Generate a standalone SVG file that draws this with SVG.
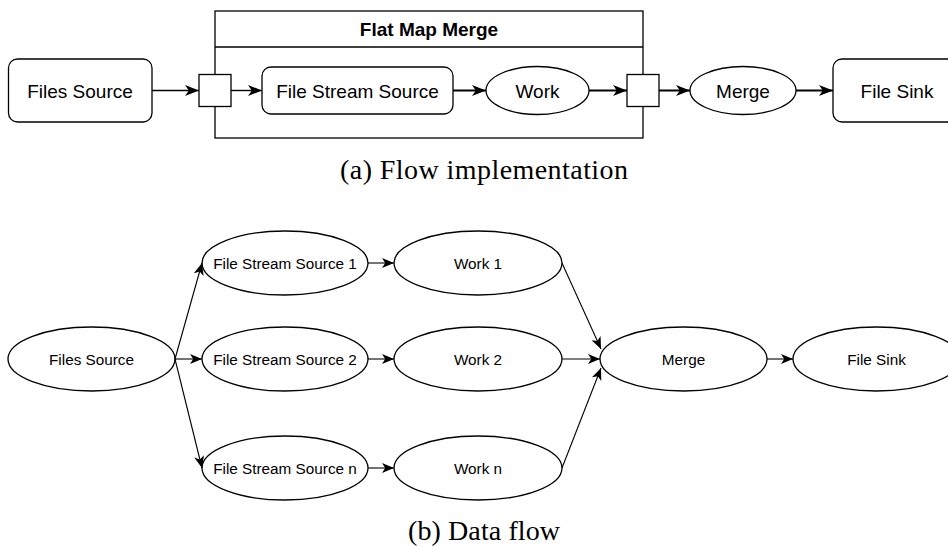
<svg xmlns="http://www.w3.org/2000/svg" width="948" height="547" viewBox="0 0 948 547">
  <style>
    .shape { fill: #ffffff; stroke: #000000; stroke-width: 1.3; }
    .lbl { font-family: "Liberation Sans", Arial, sans-serif; font-size: 19px; fill: #000; text-anchor: middle; }
    .lbl-b { font-family: "Liberation Sans", Arial, sans-serif; font-size: 15.3px; fill: #000; text-anchor: middle; }
    .title { font-family: "Liberation Sans", Arial, sans-serif; font-size: 19px; font-weight: bold; fill: #000; text-anchor: middle; }
    .caption { font-family: "Liberation Serif", "Times New Roman", serif; font-size: 28px; fill: #000; text-anchor: middle; }
    .edge { fill: none; stroke: #000; }
    .thick { stroke-width: 2; marker-end: url(#arrowTop); }
    .thin { stroke-width: 1.4; marker-end: url(#arrowTop); }
    .fine { stroke-width: 1.1; marker-end: url(#arrowBottom); }
  </style>
  <defs>
    <marker id="arrowTop" markerUnits="userSpaceOnUse" markerWidth="15" markerHeight="12" refX="14" refY="6" orient="auto" viewBox="0 0 15 12">
      <path d="M0,0.5 L14,6 L0,11.5 L3.8,6 Z" fill="#000"/>
    </marker>
    <marker id="arrowBottom" markerUnits="userSpaceOnUse" markerWidth="13" markerHeight="11" refX="12" refY="5.5" orient="auto" viewBox="0 0 13 11">
      <path d="M0,0.5 L12,5.5 L0,10.5 L3.2,5.5 Z" fill="#000"/>
    </marker>
  </defs>
  <rect width="948" height="547" fill="#ffffff"/>

  <!-- (a) flow implementation -->
  <g id="flat-map-merge">
    <rect class="shape" x="215" y="11" width="428" height="127"/>
    <line x1="215" y1="47" x2="643" y2="47" stroke="#000" stroke-width="1.3"/>
    <text class="title" x="429" y="36">Flat Map Merge</text>
  </g>
  <g id="a-files-source">
    <rect class="shape" x="8.5" y="59" width="143.5" height="63" rx="9"/>
    <text class="lbl" x="80" y="98">Files Source</text>
  </g>
  <g id="a-inlet">
    <rect class="shape" x="199" y="74.5" width="32" height="32"/>
  </g>
  <g id="a-file-stream-source">
    <rect class="shape" x="262" y="67" width="191" height="47" rx="9"/>
    <text class="lbl" x="357.5" y="97.5">File Stream Source</text>
  </g>
  <g id="a-work">
    <ellipse class="shape" cx="537.5" cy="90.5" rx="51.5" ry="24"/>
    <text class="lbl" x="537.5" y="97.5">Work</text>
  </g>
  <g id="a-outlet">
    <rect class="shape" x="627" y="74.5" width="32" height="32"/>
  </g>
  <g id="a-merge">
    <ellipse class="shape" cx="743" cy="90.5" rx="53" ry="24"/>
    <text class="lbl" x="743" y="97.5">Merge</text>
  </g>
  <g id="a-file-sink">
    <rect class="shape" x="833" y="59" width="140" height="63" rx="9"/>
    <text class="lbl" x="897" y="98">File Sink</text>
  </g>

  <!-- (b) data flow -->
  <g id="b-files-source">
    <ellipse class="shape" cx="91.5" cy="359" rx="83.5" ry="32"/>
    <text class="lbl-b" x="91.5" y="364.5">Files Source</text>
  </g>
  <g id="b-fss-1">
    <ellipse class="shape" cx="285" cy="263" rx="83" ry="32"/>
    <text class="lbl-b" x="285" y="268.5">File Stream Source 1</text>
  </g>
  <g id="b-fss-2">
    <ellipse class="shape" cx="285" cy="359" rx="83" ry="32"/>
    <text class="lbl-b" x="285" y="364.5">File Stream Source 2</text>
  </g>
  <g id="b-fss-n">
    <ellipse class="shape" cx="285" cy="468" rx="83" ry="32"/>
    <text class="lbl-b" x="285" y="473.5">File Stream Source n</text>
  </g>
  <g id="b-work-1">
    <ellipse class="shape" cx="478" cy="263" rx="84" ry="32"/>
    <text class="lbl-b" x="478" y="268.5">Work 1</text>
  </g>
  <g id="b-work-2">
    <ellipse class="shape" cx="478" cy="359" rx="84" ry="32"/>
    <text class="lbl-b" x="478" y="364.5">Work 2</text>
  </g>
  <g id="b-work-n">
    <ellipse class="shape" cx="478" cy="468" rx="84" ry="32"/>
    <text class="lbl-b" x="478" y="473.5">Work n</text>
  </g>
  <g id="b-merge">
    <ellipse class="shape" cx="683.5" cy="359" rx="83.5" ry="32"/>
    <text class="lbl-b" x="683.5" y="364.5">Merge</text>
  </g>
  <g id="b-file-sink">
    <ellipse class="shape" cx="876.5" cy="359" rx="83.5" ry="32"/>
    <text class="lbl-b" x="876.5" y="364.5">File Sink</text>
  </g>

  <g id="connectors">
    <line class="edge thin" x1="152" y1="90.5" x2="199" y2="90.5"/>
    <line class="edge thin" x1="231" y1="90.5" x2="262" y2="90.5"/>
    <line class="edge thick" x1="453" y1="90.5" x2="486" y2="90.5"/>
    <line class="edge thick" x1="589" y1="90.5" x2="627" y2="90.5"/>
    <line class="edge thick" x1="659" y1="90.5" x2="690" y2="90.5"/>
    <line class="edge thick" x1="796" y1="90.5" x2="833" y2="90.5"/>

    <line class="edge fine" x1="175" y1="359" x2="202" y2="263"/>
    <line class="edge fine" x1="175" y1="359" x2="202" y2="359"/>
    <line class="edge fine" x1="175" y1="359" x2="202" y2="468"/>
    <line class="edge fine" x1="368" y1="263" x2="394" y2="263"/>
    <line class="edge fine" x1="368" y1="359" x2="394" y2="359"/>
    <line class="edge fine" x1="368" y1="468" x2="394" y2="468"/>
    <line class="edge fine" x1="562" y1="263" x2="601" y2="349"/>
    <line class="edge fine" x1="562" y1="359" x2="600" y2="359"/>
    <line class="edge fine" x1="562" y1="468" x2="601" y2="368"/>
    <line class="edge fine" x1="767" y1="359" x2="793" y2="359"/>
  </g>

  <text class="caption" x="484" y="179" textLength="288" lengthAdjust="spacing">(a) Flow implementation</text>
  <text class="caption" x="484" y="540" textLength="152" lengthAdjust="spacing">(b) Data flow</text>
</svg>
